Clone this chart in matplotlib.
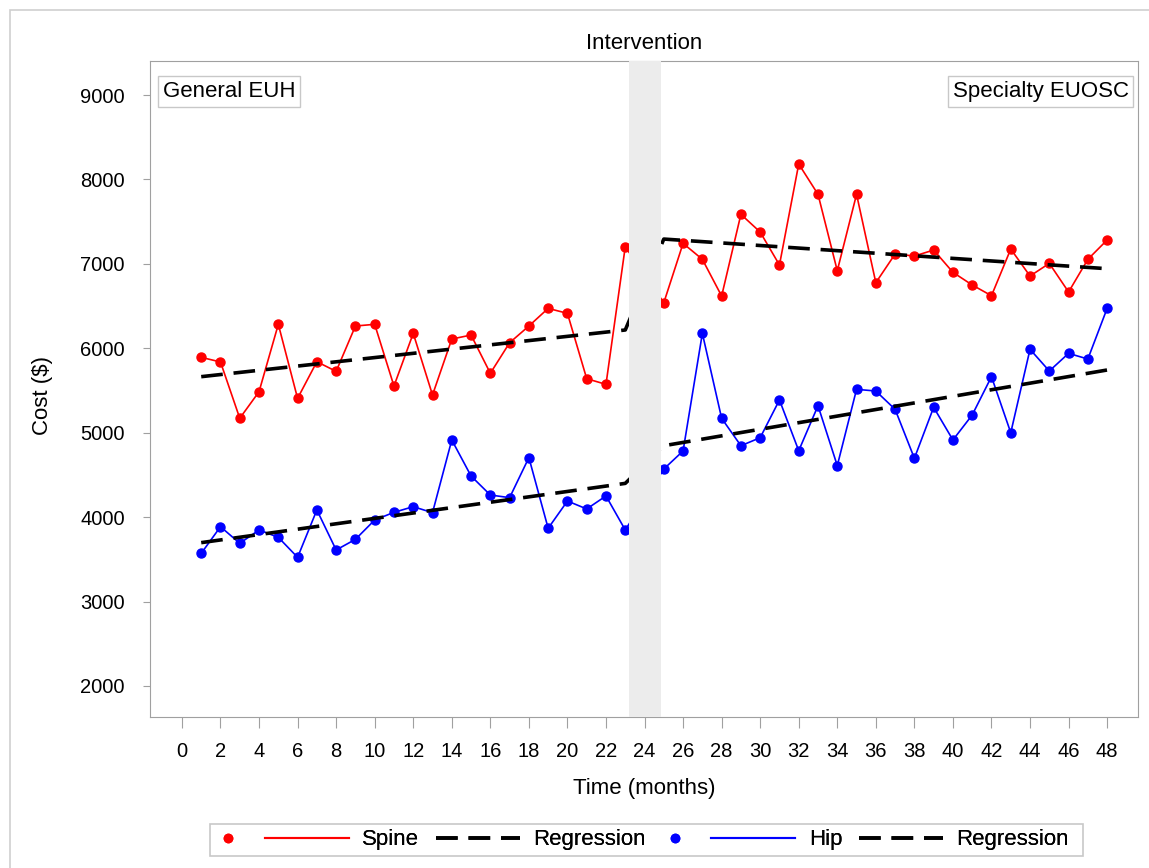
import matplotlib
matplotlib.use("Agg")
import matplotlib.pyplot as plt
from matplotlib.lines import Line2D
from matplotlib.patches import Rectangle
from matplotlib.legend_handler import HandlerLine2D

# monthly costs, months 1-23 before and 25-48 after the intervention
months = list(range(1, 24)) + list(range(25, 49))
spine = [5893, 5838, 5171, 5486, 6284, 5407, 5841, 5727, 6264, 6284, 5553, 6177,
         5447, 6110, 6157, 5704, 6066, 6264, 6473, 6414, 5640, 5573, 7203,
         6540, 7243, 7054, 6619, 7587, 7377, 6987, 8183, 7824, 6919, 7824, 6777,
         7117, 7093, 7164, 6900, 6750, 6623, 7176, 6856, 7006, 6667, 7054, 7283]
hip = [3571, 3887, 3690, 3848, 3761, 3524, 4085, 3611, 3737, 3966, 4057, 4124,
       4053, 4914, 4487, 4262, 4231, 4705, 3868, 4191, 4097, 4251, 3848,
       4570, 4784, 6177, 5171, 4846, 4941, 5388, 4787, 5320, 4610, 5514, 5494,
       5277, 4697, 5301, 4914, 5210, 5664, 5000, 5988, 5731, 5940, 5873, 6473]

# segmented regression end points (pre and post intervention)
reg_months = [1, 23, 25, 48]
spine_reg = [5664, 6217, 7294, 6943]
hip_reg = [3698, 4400, 4846, 5743]

band = (23.17, 24.83)
xticks = list(range(0, 50, 2))
yticks = list(range(2000, 10000, 1000))

plt.rcParams['font.family'] = ['Liberation Sans', 'DejaVu Sans']
fs_tick = 14.5
fs = 16
grey = '#a0a0a0'


class DotLineHandler(HandlerLine2D):
    """Legend line with a separate dot drawn to its left."""
    def __init__(self, color, gap, **kw):
        super().__init__(**kw)
        self.color = color
        self.gap = gap

    def create_artists(self, legend, orig_handle, xdescent, ydescent,
                       width, height, fontsize, trans):
        artists = super().create_artists(legend, orig_handle, xdescent, ydescent,
                                          width, height, fontsize, trans)
        y = height / 2 - ydescent
        dot = Line2D([-xdescent - self.gap], [y], ls='none', marker='o',
                     color=self.color, ms=6)
        dot.set_transform(trans)
        return list(artists) + [dot]


fig = plt.figure(figsize=(11.49, 8.68), dpi=100)
ax = fig.add_axes([0.1305, 0.174, 0.9904 - 0.1305, 0.9297 - 0.174])

# outer frame of the graph area
fig.patches.append(Rectangle((10 / 1149, -0.05), 1.1, 858 / 868 + 0.05,
                             transform=fig.transFigure, fill=False,
                             edgecolor='#cfcfcf', lw=1.2))

reg_style = dict(color='black', lw=2.6, dashes=(6, 3))
ax.plot(months, spine, color='#ff0000', lw=1.2, marker='o', ms=6.5, zorder=3)
ax.plot(reg_months, spine_reg, zorder=4, **reg_style)
ax.plot(months, hip, color='#0000ff', lw=1.2, marker='o', ms=6.5, zorder=3)
ax.plot(reg_months, hip_reg, zorder=4, **reg_style)

ax.axvspan(band[0], band[1], color='#ececec', zorder=5, lw=0)

ax.set_xlim(-1.66, 49.6)
ax.set_ylim(1633, 9403)
ax.set_xticks(xticks)
ax.set_yticks(yticks)
ax.tick_params(axis='x', length=8, color=grey, labelsize=fs_tick, pad=10)
ax.tick_params(axis='y', length=5, color=grey, labelsize=fs_tick, pad=13)
for s in ax.spines.values():
    s.set_color(grey)

ax.set_xlabel('Time (months)', fontsize=fs, labelpad=12)
ax.set_ylabel('Cost ($)', fontsize=fs)
ax.yaxis.set_label_coords(-0.098, 0.49)

ax.text(24, 1.01, 'Intervention', transform=ax.get_xaxis_transform(),
        ha='center', va='bottom', fontsize=fs)

box = dict(boxstyle='square,pad=0.22', fc='white', ec='#c8c8c8', lw=1)
ax.text(0.013, 0.954, 'General EUH', transform=ax.transAxes, ha='left',
        va='center', fontsize=fs, bbox=box, zorder=6)
ax.text(0.9905, 0.954, 'Specialty EUOSC', transform=ax.transAxes, ha='right',
        va='center', fontsize=fs, bbox=box, zorder=6)

# legend: one group per series, each with its regression line
legend_y = 1 - 840 / 868
groups = [('Spine', '#ff0000', 455), ('Hip', '#0000ff', 890)]
for name, col, xc in groups:
    series = Line2D([], [], color=col, lw=1.5)
    reg = Line2D([], [], **reg_style)
    leg = fig.legend([series, reg], [name, 'Regression'], loc='center',
                     bbox_to_anchor=(xc / 1149, legend_y), ncol=2, fontsize=fs,
                     frameon=False, handlelength=3.78, handletextpad=0.6,
                     columnspacing=0.75, borderpad=0, borderaxespad=0,
                     handler_map={series: DotLineHandler(col, 26)})
    fig.add_artist(leg)

fig.patches.append(Rectangle((210 / 1149, 12 / 868), 873 / 1149, 32 / 868,
                             transform=fig.transFigure, fill=False,
                             edgecolor='#c8c8c8', lw=1.2))

fig.savefig('out.png', dpi=100)
